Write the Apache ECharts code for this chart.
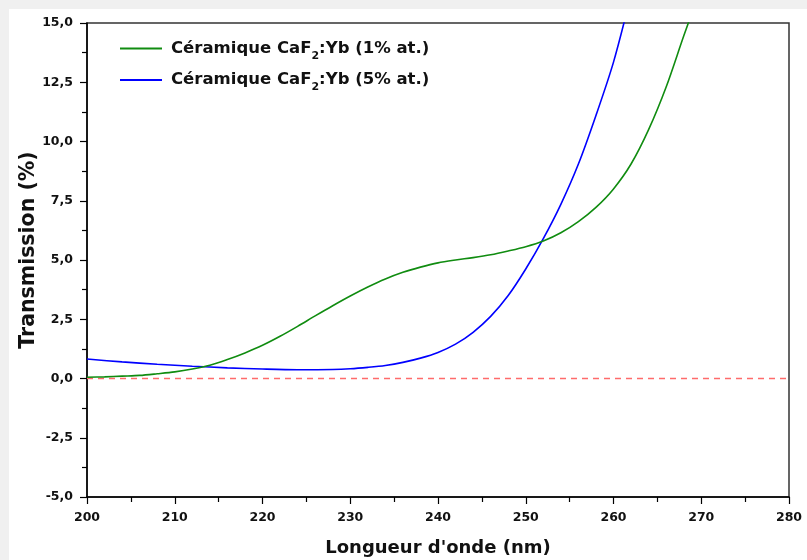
<!DOCTYPE html>
<html><head><meta charset="utf-8">
<script src="https://cdn.jsdelivr.net/npm/echarts@6/dist/echarts.min.js"></script>
<style>
html,body{margin:0;padding:0;background:#f0f0f0;width:807px;height:560px;overflow:hidden}
#c{position:absolute;left:9px;top:9px;width:798px;height:551px;background:#fff}
</style></head><body><div id="c"></div>
<script>
const seriesNames = ['Céramique CaF{sub|2}:Yb (1% at.)', 'Céramique CaF{sub|2}:Yb (5% at.)'];
const wl1 = [200, 202, 204, 206, 208, 210, 212, 214, 216, 218, 220, 222, 224, 226, 228, 230, 232, 234, 236, 238, 240, 242, 244, 246, 248, 250, 252, 254, 256, 258, 260, 262, 264, 266, 268, 269.5];
const t1 = [0.05, 0.07, 0.10, 0.13, 0.20, 0.28, 0.40, 0.56, 0.80, 1.08, 1.40, 1.78, 2.20, 2.64, 3.07, 3.48, 3.86, 4.20, 4.48, 4.70, 4.88, 5.00, 5.10, 5.22, 5.38, 5.56, 5.80, 6.15, 6.62, 7.22, 8.00, 9.05, 10.50, 12.30, 14.45, 16.0];
const wl2 = [200, 204, 208, 212, 216, 220, 224, 228, 230, 232, 234, 236, 238, 240, 242, 244, 246, 248, 250, 252, 254, 256, 258, 260, 262];
const t2 = [0.82, 0.70, 0.60, 0.52, 0.45, 0.40, 0.37, 0.38, 0.41, 0.47, 0.55, 0.68, 0.86, 1.10, 1.45, 1.95, 2.62, 3.50, 4.62, 5.90, 7.35, 9.05, 11.10, 13.35, 16.20];
const zeroX = [200, 280];
const zeroY = [0, 0];
const xTicks = {min: 200, max: 280, interval: 10};
const yTicks = {min: -5, max: 15, interval: 2.5};

const pairs = (xs, ys) => xs.map((x, i) => [x, ys[i]]);
const chart = echarts.init(document.getElementById('c'), null, {renderer: 'canvas'});
const font = 'DejaVu Sans, sans-serif';
chart.setOption({
  animation: false,
  grid: {left: 78, top: 14, right: 18, bottom: 63, show: true, borderColor: '#333', borderWidth: 1.5, backgroundColor: '#fff',
         containLabel: false, outerBoundsMode: 'none'},
  legend: {
    left: 106, top: 26, orient: 'vertical', itemWidth: 42, itemHeight: 2, itemGap: 10, icon: 'rect',
    data: seriesNames,
    textStyle: {fontFamily: font, fontWeight: 'bold', fontSize: 16.5, color: '#111', padding: [0, 0, 0, 4],
      rich: {sub: {fontFamily: font, fontWeight: 'bold', fontSize: 11, color: '#111', padding: [15, 0, 0, 0]}}}
  },
  xAxis: {
    type: 'value', min: xTicks.min, max: xTicks.max, interval: xTicks.interval,
    name: "Longueur d'onde (nm)", nameLocation: 'middle', nameGap: 42,
    nameTextStyle: {fontFamily: font, fontWeight: 'bold', fontSize: 18, color: '#111'},
    axisLine: {onZero: false, lineStyle: {color: '#000', width: 1.5}},
    axisTick: {show: true, length: 7, inside: false, lineStyle: {color: '#000', width: 1.2}},
    minorTick: {show: true, splitNumber: 2, length: 5, lineStyle: {color: '#000', width: 1.2}},
    axisLabel: {margin: 14, fontFamily: font, fontWeight: 'bold', fontSize: 12.5, color: '#111'},
    splitLine: {show: false}
  },
  yAxis: {
    type: 'value', min: yTicks.min, max: yTicks.max, interval: yTicks.interval,
    name: 'Transmission (%)', nameLocation: 'middle', nameGap: 48, nameMoveOverlap: false,
    nameTextStyle: {fontFamily: font, fontWeight: 'bold', fontSize: 20.5, color: '#111', padding: [0, 0, 0, 20]},
    axisLine: {onZero: false, lineStyle: {color: '#000', width: 1.5}},
    axisTick: {show: true, length: 7, lineStyle: {color: '#000', width: 1.2}},
    minorTick: {show: true, splitNumber: 2, length: 5, lineStyle: {color: '#000', width: 1.2}},
    axisLabel: {margin: 14, fontFamily: font, fontWeight: 'bold', fontSize: 12.5, color: '#111',
      formatter: v => v.toFixed(1).replace('.', ',')},
    splitLine: {show: false}
  },
  series: [
    {name: 'zero', type: 'line', data: pairs(zeroX, zeroY), symbol: 'none', silent: true,
     lineStyle: {color: '#ff6b6b', width: 1.5, type: [6, 5]}, z: 1},
    {name: seriesNames[0], type: 'line', data: pairs(wl1, t1), smooth: 0.3, symbol: 'none', clip: true,
     lineStyle: {color: '#108c10', width: 1.6}, itemStyle: {color: '#108c10'}, z: 3},
    {name: seriesNames[1], type: 'line', data: pairs(wl2, t2), smooth: 0.3, symbol: 'none', clip: true,
     lineStyle: {color: '#0000ff', width: 1.6}, itemStyle: {color: '#0000ff'}, z: 2}
  ]
});
</script></body></html>
